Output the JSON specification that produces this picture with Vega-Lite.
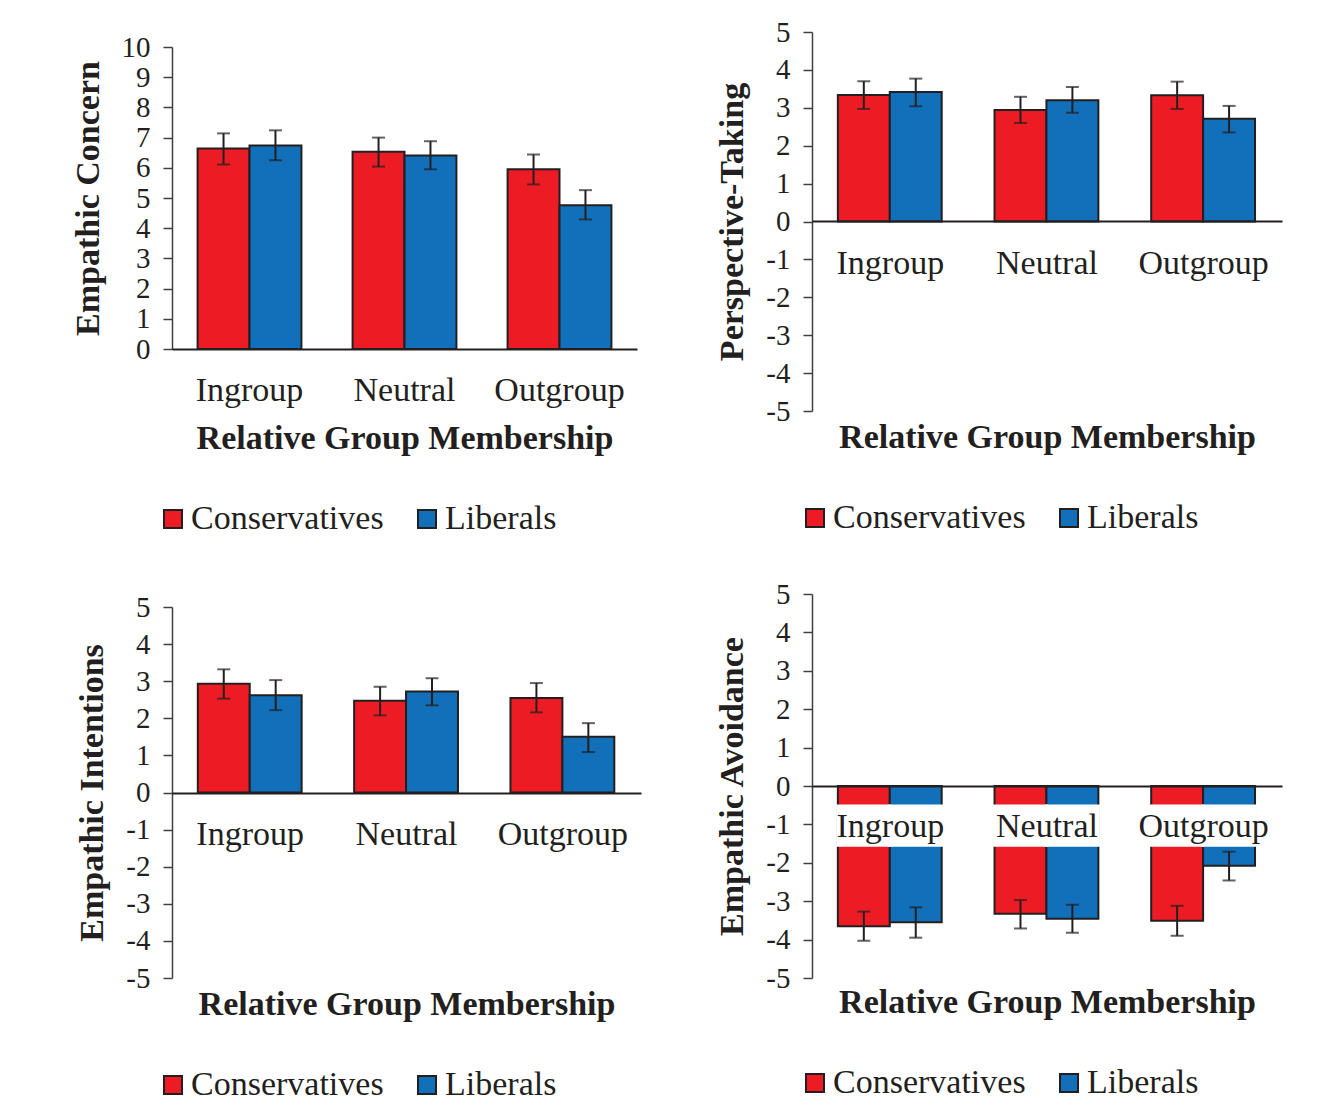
{
  "$schema": "https://vega.github.io/schema/vega-lite/v6.json",
  "background": "white",
  "padding": {"left": 70, "top": 18, "right": 5, "bottom": 5},
  "config": {
    "font": "Liberation Serif",
    "view": {"stroke": null},
    "axis": {"labelFont": "Liberation Serif", "titleFont": "Liberation Serif", "labelColor": "#231F20", "titleColor": "#231F20", "grid": false},
    "axisY": {"labelOverlap": false, "labelExpr": "toString(datum.value)", "tickSize": 9, "tickColor": "#404040", "tickWidth": 1.5, "domainColor": "#404040", "domainWidth": 1.5, "labelFontSize": 29, "labelPadding": 13, "titleFontSize": 34, "titleFontWeight": "bold", "titlePadding": 16},
    "legend": {"labelFont": "Liberation Serif", "labelColor": "#231F20", "labelLimit": 400}
  },
  "datasets": {
    "d": [
      {"panel": "EC", "group": "Ingroup", "party": "Conservatives", "mean": 6.64, "lo": 6.11, "hi": 7.14},
      {"panel": "EC", "group": "Ingroup", "party": "Liberals", "mean": 6.74, "lo": 6.25, "hi": 7.24},
      {"panel": "EC", "group": "Neutral", "party": "Conservatives", "mean": 6.53, "lo": 6.04, "hi": 7.0},
      {"panel": "EC", "group": "Neutral", "party": "Liberals", "mean": 6.41, "lo": 5.95, "hi": 6.88},
      {"panel": "EC", "group": "Outgroup", "party": "Conservatives", "mean": 5.95, "lo": 5.45, "hi": 6.44},
      {"panel": "EC", "group": "Outgroup", "party": "Liberals", "mean": 4.76, "lo": 4.29, "hi": 5.26},
      {"panel": "PT", "group": "Ingroup", "party": "Conservatives", "mean": 3.34, "lo": 2.97, "hi": 3.7},
      {"panel": "PT", "group": "Ingroup", "party": "Liberals", "mean": 3.42, "lo": 3.04, "hi": 3.77},
      {"panel": "PT", "group": "Neutral", "party": "Conservatives", "mean": 2.94, "lo": 2.6, "hi": 3.29},
      {"panel": "PT", "group": "Neutral", "party": "Liberals", "mean": 3.2, "lo": 2.87, "hi": 3.55},
      {"panel": "PT", "group": "Outgroup", "party": "Conservatives", "mean": 3.33, "lo": 2.97, "hi": 3.69},
      {"panel": "PT", "group": "Outgroup", "party": "Liberals", "mean": 2.71, "lo": 2.35, "hi": 3.05},
      {"panel": "EI", "group": "Ingroup", "party": "Conservatives", "mean": 2.93, "lo": 2.53, "hi": 3.32},
      {"panel": "EI", "group": "Ingroup", "party": "Liberals", "mean": 2.62, "lo": 2.22, "hi": 3.03},
      {"panel": "EI", "group": "Neutral", "party": "Conservatives", "mean": 2.47, "lo": 2.08, "hi": 2.85},
      {"panel": "EI", "group": "Neutral", "party": "Liberals", "mean": 2.72, "lo": 2.35, "hi": 3.08},
      {"panel": "EI", "group": "Outgroup", "party": "Conservatives", "mean": 2.55, "lo": 2.16, "hi": 2.95},
      {"panel": "EI", "group": "Outgroup", "party": "Liberals", "mean": 1.5, "lo": 1.09, "hi": 1.87},
      {"panel": "EA", "group": "Ingroup", "party": "Conservatives", "mean": -3.65, "lo": -4.03, "hi": -3.27},
      {"panel": "EA", "group": "Ingroup", "party": "Liberals", "mean": -3.55, "lo": -3.95, "hi": -3.16},
      {"panel": "EA", "group": "Neutral", "party": "Conservatives", "mean": -3.33, "lo": -3.71, "hi": -2.97},
      {"panel": "EA", "group": "Neutral", "party": "Liberals", "mean": -3.46, "lo": -3.82, "hi": -3.09},
      {"panel": "EA", "group": "Outgroup", "party": "Conservatives", "mean": -3.51, "lo": -3.9, "hi": -3.12},
      {"panel": "EA", "group": "Outgroup", "party": "Liberals", "mean": -2.08, "lo": -2.46, "hi": -1.71}
    ]
  },
  "resolve": {"scale": {"color": "independent"}, "legend": {"color": "independent"}},
  "spacing": 74,
  "hconcat": [
    {
      "spacing": 57,
      "resolve": {"scale": {"color": "independent"}, "legend": {"color": "independent"}},
      "vconcat": [
        {
          "spacing": 0,
          "resolve": {"scale": {"color": "independent"}, "legend": {"color": "independent"}},
          "vconcat": [
            {"width": 1, "height": 1, "data": {"values": []}, "mark": "point"},
            {
              "width": 465, "height": 302,
              "data": {"name": "d"},
              "transform": [{"filter": "datum.panel == 'EC'"}],
              "encoding": {
                "x": {"field": "group", "type": "nominal", "sort": ["Ingroup", "Neutral", "Outgroup"], "scale": {"paddingInner": 0.33, "paddingOuter": 0.165},
                  "axis": {"title": "Relative Group Membership", "labelAngle": 0, "ticks": false, "tickSize": 0, "labelFontSize": 34, "labelPadding": 41, "labelBaseline": "middle", "domainColor": "#231F20", "domainWidth": 2, "offset": 0, "titleY": 89, "titleBaseline": "middle", "titleFontSize": 34, "titleFontWeight": "bold", "zindex": 1}},
                "xOffset": {"field": "party", "type": "nominal", "sort": ["Conservatives", "Liberals"]}
              },
              "layer": [
                {"mark": {"type": "bar", "stroke": "#231F20", "strokeWidth": 2},
                 "encoding": {
                   "y": {"field": "mean", "type": "quantitative", "title": "Empathic Concern", "scale": {"domain": [0, 10]}, "axis": {"values": [0,1,2,3,4,5,6,7,8,9,10]}},
                   "color": {"field": "party", "type": "nominal", "scale": {"domain": ["Conservatives", "Liberals"], "range": ["#ED1C24", "#1170B9"]},
                     "legend": {"orient": "none", "legendX": -16, "legendY": 455, "direction": "horizontal", "title": null, "symbolType": "square", "symbolSize": 324, "symbolStrokeColor": "#231F20", "symbolStrokeWidth": 2, "labelFontSize": 34, "labelOffset": 1, "columnPadding": 26, "padding": 0}}
                 }},
                {"mark": {"type": "rule", "color": "#231F20", "strokeWidth": 2},
                 "encoding": {"y": {"field": "lo", "type": "quantitative", "title": "Empathic Concern", "axis": {"values": [0,1,2,3,4,5,6,7,8,9,10]}}, "y2": {"field": "hi"}}},
                {"mark": {"type": "tick", "color": "#231F20", "thickness": 2, "size": 13},
                 "encoding": {"y": {"field": "lo", "type": "quantitative", "title": "Empathic Concern", "axis": {"values": [0,1,2,3,4,5,6,7,8,9,10]}}}},
                {"mark": {"type": "tick", "color": "#231F20", "thickness": 2, "size": 13},
                 "encoding": {"y": {"field": "hi", "type": "quantitative", "title": "Empathic Concern", "axis": {"values": [0,1,2,3,4,5,6,7,8,9,10]}}}}
              ]
            }
          ]
        },
        {
          "width": 469, "height": 371,
          "data": {"name": "d"},
          "transform": [{"filter": "datum.panel == 'EI'"}],
          "encoding": {
            "x": {"field": "group", "type": "nominal", "sort": ["Ingroup", "Neutral", "Outgroup"], "scale": {"paddingInner": 0.33, "paddingOuter": 0.165},
              "axis": {"title": "Relative Group Membership", "labelAngle": 0, "ticks": false, "tickSize": 0, "labelFontSize": 34, "labelPadding": 41, "labelBaseline": "middle", "domainColor": "#231F20", "domainWidth": 2, "offset": -185, "titleY": 211, "titleBaseline": "middle", "titleFontSize": 34, "titleFontWeight": "bold", "zindex": 1}},
            "xOffset": {"field": "party", "type": "nominal", "sort": ["Conservatives", "Liberals"]}
          },
          "layer": [
            {"mark": {"type": "bar", "stroke": "#231F20", "strokeWidth": 2},
             "encoding": {
               "y": {"field": "mean", "type": "quantitative", "title": "Empathic Intentions", "scale": {"domain": [-5, 5]}, "axis": {"values": [-5,-4,-3,-2,-1,0,1,2,3,4,5]}},
               "color": {"field": "party", "type": "nominal", "scale": {"domain": ["Conservatives", "Liberals"], "range": ["#ED1C24", "#1170B9"]},
                 "legend": {"orient": "none", "legendX": -16, "legendY": 461, "direction": "horizontal", "title": null, "symbolType": "square", "symbolSize": 324, "symbolStrokeColor": "#231F20", "symbolStrokeWidth": 2, "labelFontSize": 34, "labelOffset": 1, "columnPadding": 26, "padding": 0}}
             }},
            {"mark": {"type": "rule", "color": "#231F20", "strokeWidth": 2},
             "encoding": {"y": {"field": "lo", "type": "quantitative", "title": "Empathic Intentions", "axis": {"values": [-5,-4,-3,-2,-1,0,1,2,3,4,5]}}, "y2": {"field": "hi"}}},
            {"mark": {"type": "tick", "color": "#231F20", "thickness": 2, "size": 13},
             "encoding": {"y": {"field": "lo", "type": "quantitative", "title": "Empathic Intentions", "axis": {"values": [-5,-4,-3,-2,-1,0,1,2,3,4,5]}}}},
            {"mark": {"type": "tick", "color": "#231F20", "thickness": 2, "size": 13},
             "encoding": {"y": {"field": "hi", "type": "quantitative", "title": "Empathic Intentions", "axis": {"values": [-5,-4,-3,-2,-1,0,1,2,3,4,5]}}}}
          ]
        }
      ]
    },
    {
      "spacing": 45,
      "resolve": {"scale": {"color": "independent"}, "legend": {"color": "independent"}},
      "vconcat": [
        {
          "width": 470, "height": 379,
          "data": {"name": "d"},
          "transform": [{"filter": "datum.panel == 'PT'"}],
          "encoding": {
            "x": {"field": "group", "type": "nominal", "sort": ["Ingroup", "Neutral", "Outgroup"], "scale": {"paddingInner": 0.33, "paddingOuter": 0.165},
              "axis": {"title": "Relative Group Membership", "labelAngle": 0, "ticks": false, "tickSize": 0, "labelFontSize": 34, "labelPadding": 42, "labelBaseline": "middle", "domainColor": "#231F20", "domainWidth": 2, "offset": -190, "titleY": 216, "titleBaseline": "middle", "titleFontSize": 34, "titleFontWeight": "bold", "zindex": 1}},
            "xOffset": {"field": "party", "type": "nominal", "sort": ["Conservatives", "Liberals"]}
          },
          "layer": [
            {"mark": {"type": "bar", "stroke": "#231F20", "strokeWidth": 2},
             "encoding": {
               "y": {"field": "mean", "type": "quantitative", "title": "Perspective-Taking", "scale": {"domain": [-5, 5]}, "axis": {"values": [-5,-4,-3,-2,-1,0,1,2,3,4,5]}},
               "color": {"field": "party", "type": "nominal", "scale": {"domain": ["Conservatives", "Liberals"], "range": ["#ED1C24", "#1170B9"]},
                 "legend": {"orient": "none", "legendX": -14, "legendY": 469, "direction": "horizontal", "title": null, "symbolType": "square", "symbolSize": 324, "symbolStrokeColor": "#231F20", "symbolStrokeWidth": 2, "labelFontSize": 34, "labelOffset": 1, "columnPadding": 26, "padding": 0}}
             }},
            {"mark": {"type": "rule", "color": "#231F20", "strokeWidth": 2},
             "encoding": {"y": {"field": "lo", "type": "quantitative", "title": "Perspective-Taking", "axis": {"values": [-5,-4,-3,-2,-1,0,1,2,3,4,5]}}, "y2": {"field": "hi"}}},
            {"mark": {"type": "tick", "color": "#231F20", "thickness": 2, "size": 13},
             "encoding": {"y": {"field": "lo", "type": "quantitative", "title": "Perspective-Taking", "axis": {"values": [-5,-4,-3,-2,-1,0,1,2,3,4,5]}}}},
            {"mark": {"type": "tick", "color": "#231F20", "thickness": 2, "size": 13},
             "encoding": {"y": {"field": "hi", "type": "quantitative", "title": "Perspective-Taking", "axis": {"values": [-5,-4,-3,-2,-1,0,1,2,3,4,5]}}}}
          ]
        },
        {
          "width": 470, "height": 384,
          "data": {"name": "d"},
          "transform": [{"filter": "datum.panel == 'EA'"}],
          "encoding": {
            "x": {"field": "group", "type": "nominal", "sort": ["Ingroup", "Neutral", "Outgroup"], "scale": {"paddingInner": 0.33, "paddingOuter": 0.165},
              "axis": {"title": "Relative Group Membership", "labelAngle": 0, "ticks": false, "tickSize": 0, "labelFontSize": 34, "labelPadding": 40, "labelBaseline": "middle", "domainColor": "#231F20", "domainWidth": 2, "offset": -192, "titleY": 216, "titleBaseline": "middle", "titleFontSize": 34, "titleFontWeight": "bold", "zindex": 1}},
            "xOffset": {"field": "party", "type": "nominal", "sort": ["Conservatives", "Liberals"]}
          },
          "layer": [
            {"mark": {"type": "bar", "stroke": "#231F20", "strokeWidth": 2},
             "encoding": {
               "y": {"field": "mean", "type": "quantitative", "title": "Empathic Avoidance", "scale": {"domain": [-5, 5]}, "axis": {"values": [-5,-4,-3,-2,-1,0,1,2,3,4,5]}},
               "color": {"field": "party", "type": "nominal", "scale": {"domain": ["Conservatives", "Liberals"], "range": ["#ED1C24", "#1170B9"]},
                 "legend": {"orient": "none", "legendX": -14, "legendY": 472, "direction": "horizontal", "title": null, "symbolType": "square", "symbolSize": 324, "symbolStrokeColor": "#231F20", "symbolStrokeWidth": 2, "labelFontSize": 34, "labelOffset": 1, "columnPadding": 26, "padding": 0}}
             }},
            {"mark": {"type": "bar", "fill": "white", "stroke": "white", "strokeWidth": 3},
             "encoding": {"y": {"datum": -0.52, "type": "quantitative", "title": "Empathic Avoidance", "axis": {"values": [-5,-4,-3,-2,-1,0,1,2,3,4,5]}}, "y2": {"datum": -1.54}}},
            {"mark": {"type": "rule", "color": "#231F20", "strokeWidth": 2},
             "encoding": {"y": {"field": "lo", "type": "quantitative", "title": "Empathic Avoidance", "axis": {"values": [-5,-4,-3,-2,-1,0,1,2,3,4,5]}}, "y2": {"field": "hi"}}},
            {"mark": {"type": "tick", "color": "#231F20", "thickness": 2, "size": 13},
             "encoding": {"y": {"field": "lo", "type": "quantitative", "title": "Empathic Avoidance", "axis": {"values": [-5,-4,-3,-2,-1,0,1,2,3,4,5]}}}},
            {"mark": {"type": "tick", "color": "#231F20", "thickness": 2, "size": 13},
             "encoding": {"y": {"field": "hi", "type": "quantitative", "title": "Empathic Avoidance", "axis": {"values": [-5,-4,-3,-2,-1,0,1,2,3,4,5]}}}}
          ]
        }
      ]
    }
  ]
}
